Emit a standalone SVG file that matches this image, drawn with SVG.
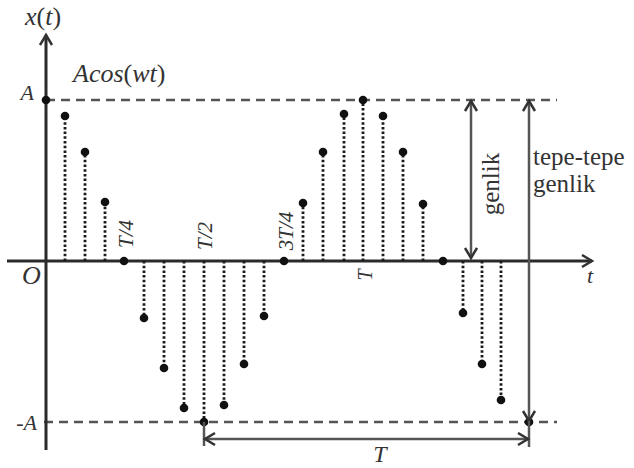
<svg xmlns="http://www.w3.org/2000/svg" width="634" height="468" viewBox="0 0 634 468">
<defs>
<style>
.axis{stroke:#2b2b2b;stroke-width:3;fill:none}
.dash{stroke:#555;stroke-width:2.5;stroke-dasharray:9 6;fill:none}
.stem{stroke:#1a1a1a;stroke-width:2.8;stroke-dasharray:2.5 2.2;fill:none}
.arr{stroke:#555;stroke-width:2.5;fill:none}
.dot{fill:#111}
.lbl{font-family:"Liberation Serif","Times New Roman",serif;fill:#333}
.it{font-style:italic}
</style>
<marker id="ch" markerUnits="userSpaceOnUse" markerWidth="16" markerHeight="16" refX="12" refY="7" orient="auto-start-reverse">
<path d="M2,1 L12,7 L2,13" fill="none" stroke="#333" stroke-width="2.5"/>
</marker>
</defs>
<rect width="634" height="468" fill="#fff"/>
<g id="guides">
<line class="dash" x1="46" y1="100" x2="557" y2="100"/>
<line class="dash" x1="44" y1="422" x2="557" y2="422"/>
</g>
<g id="axes">
<line class="axis" x1="46" y1="450" x2="46" y2="35" marker-end="url(#ch)"/>
<line class="axis" x1="7" y1="261" x2="592" y2="261" marker-end="url(#ch)"/>
</g>
<g id="stems">
<line class="stem" x1="65" y1="261" x2="65" y2="116"/>
<line class="stem" x1="85" y1="261" x2="85" y2="152"/>
<line class="stem" x1="105" y1="261" x2="105" y2="202"/>
<line class="stem" x1="144" y1="261" x2="144" y2="318"/>
<line class="stem" x1="164" y1="261" x2="164" y2="368"/>
<line class="stem" x1="184" y1="261" x2="184" y2="408"/>
<line class="stem" x1="204" y1="261" x2="204" y2="422"/>
<line class="stem" x1="224" y1="261" x2="224" y2="405"/>
<line class="stem" x1="244" y1="261" x2="244" y2="364"/>
<line class="stem" x1="264" y1="261" x2="264" y2="316"/>
<line class="stem" x1="303" y1="261" x2="303" y2="203"/>
<line class="stem" x1="323" y1="261" x2="323" y2="152"/>
<line class="stem" x1="344" y1="261" x2="344" y2="114"/>
<line class="stem" x1="363" y1="261" x2="363" y2="100"/>
<line class="stem" x1="383" y1="261" x2="383" y2="116"/>
<line class="stem" x1="403" y1="261" x2="403" y2="152"/>
<line class="stem" x1="423" y1="261" x2="423" y2="204"/>
<line class="stem" x1="463" y1="261" x2="463" y2="313"/>
<line class="stem" x1="482" y1="261" x2="482" y2="364"/>
<line class="stem" x1="501" y1="261" x2="501" y2="400"/>
</g>
<g id="dots">
<circle class="dot" cx="46" cy="100" r="4.3"/>
<circle class="dot" cx="65" cy="116" r="4.3"/>
<circle class="dot" cx="85" cy="152" r="4.3"/>
<circle class="dot" cx="105" cy="202" r="4.3"/>
<circle class="dot" cx="124" cy="261" r="4.3"/>
<circle class="dot" cx="144" cy="318" r="4.3"/>
<circle class="dot" cx="164" cy="368" r="4.3"/>
<circle class="dot" cx="184" cy="408" r="4.3"/>
<circle class="dot" cx="204" cy="422" r="4.3"/>
<circle class="dot" cx="224" cy="405" r="4.3"/>
<circle class="dot" cx="244" cy="364" r="4.3"/>
<circle class="dot" cx="264" cy="316" r="4.3"/>
<circle class="dot" cx="284" cy="261" r="4.3"/>
<circle class="dot" cx="303" cy="203" r="4.3"/>
<circle class="dot" cx="323" cy="152" r="4.3"/>
<circle class="dot" cx="344" cy="114" r="4.3"/>
<circle class="dot" cx="363" cy="100" r="4.3"/>
<circle class="dot" cx="383" cy="116" r="4.3"/>
<circle class="dot" cx="403" cy="152" r="4.3"/>
<circle class="dot" cx="423" cy="204" r="4.3"/>
<circle class="dot" cx="443" cy="261" r="4.3"/>
<circle class="dot" cx="463" cy="313" r="4.3"/>
<circle class="dot" cx="482" cy="364" r="4.3"/>
<circle class="dot" cx="501" cy="400" r="4.3"/>
<circle class="dot" cx="529" cy="422" r="4.3"/>
</g>
<g id="connectors">
<line class="arr" x1="471" y1="101" x2="471" y2="258" marker-start="url(#ch)" marker-end="url(#ch)"/>
<line class="arr" x1="529" y1="101" x2="529" y2="421" marker-start="url(#ch)" marker-end="url(#ch)"/>
<line class="arr" x1="529" y1="421" x2="529" y2="447"/>
<line class="arr" x1="204" y1="422" x2="204" y2="446"/>
<line class="arr" x1="205" y1="439" x2="528" y2="439" marker-start="url(#ch)" marker-end="url(#ch)"/>
</g>
<g id="labels" class="lbl">
<text x="25" y="25" font-size="26"><tspan class="it">x</tspan>(<tspan class="it">t</tspan>)</text>
<text x="73" y="82" font-size="26" class="it">Acos<tspan font-style="normal">(</tspan>wt<tspan font-style="normal">)</tspan></text>
<text x="34" y="100" font-size="22" class="it" text-anchor="end">A</text>
<text x="22" y="284" font-size="26" class="it">O</text>
<text x="37" y="430" font-size="22" class="it" text-anchor="end">-A</text>
<text x="587" y="283" font-size="22" class="it">t</text>
<text x="380" y="462" font-size="24" class="it" text-anchor="middle">T</text>
<text transform="translate(133,234) rotate(-90)" font-size="21" class="it" text-anchor="middle">T/4</text>
<text transform="translate(212,236) rotate(-90)" font-size="21" class="it" text-anchor="middle">T/2</text>
<text transform="translate(293,231) rotate(-90)" font-size="21" class="it" text-anchor="middle">3T/4</text>
<text transform="translate(372,275) rotate(-90)" font-size="20" class="it" text-anchor="middle">T</text>
<text transform="translate(499,184) rotate(-90)" font-size="25" text-anchor="middle">genlik</text>
<text x="533" y="165" font-size="25">tepe-tepe</text>
<text x="533" y="192" font-size="25">genlik</text>
</g>
</svg>
